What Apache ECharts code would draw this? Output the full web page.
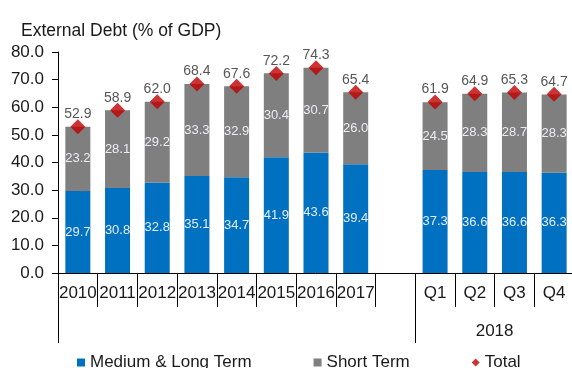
<!DOCTYPE html>
<html>
<head>
<meta charset="utf-8">
<title>External Debt (% of GDP)</title>
<script src="https://cdn.jsdelivr.net/npm/echarts@6/dist/echarts.min.js"></script>
<style>
  html, body { margin: 0; padding: 0; background: #ffffff; }
  #chart { width: 572px; height: 368px; }
</style>
</head>
<body>
<div id="chart"></div>
<script>
// Periods: yearly values, an empty spacer slot, then 2018 quarters
const categories = ['2010', '2011', '2012', '2013', '2014', '2015', '2016', '2017', '', 'Q1', 'Q2', 'Q3', 'Q4'];
const mediumLongTerm = [29.7, 30.8, 32.8, 35.1, 34.7, 41.9, 43.6, 39.4, null, 37.3, 36.6, 36.6, 36.3];
const shortTerm = [23.2, 28.1, 29.2, 33.3, 32.9, 30.4, 30.7, 26.0, null, 24.5, 28.3, 28.7, 28.3];
const total = [52.9, 58.9, 62.0, 68.4, 67.6, 72.2, 74.3, 65.4, null, 61.9, 64.9, 65.3, 64.7];
const yTicks = [0, 10, 20, 30, 40, 50, 60, 70, 80];
const groupLabel = '2018';
const groupStart = 9; // first quarter slot

const FONT = 'Liberation Sans, Arial, sans-serif';
const BLUE = '#0070c0';
const GREY = '#7f7f7f';
const RED = '#c00000';

const chart = echarts.init(document.getElementById('chart'), null, { renderer: 'canvas' });

chart.setOption({
  animation: false,
  backgroundColor: '#ffffff',
  textStyle: { fontFamily: FONT },
  title: {
    text: 'External Debt (% of GDP)',
    left: 16,
    top: 17,
    textStyle: { fontFamily: FONT, fontSize: 17.5, fontWeight: 'normal', color: '#1a1a1a' }
  },
  legend: {
    left: 72,
    top: 349,
    itemGap: 62,
    itemWidth: 8,
    itemHeight: 8,
    textStyle: { fontFamily: FONT, fontSize: 17, color: '#1a1a1a' },
    data: [
      { name: 'Medium & Long Term', icon: 'rect' },
      { name: 'Short Term', icon: 'rect' },
      { name: 'Total', icon: 'diamond' }
    ]
  },
  grid: {
    left: 58,
    right: -2,
    top: 52,
    bottom: 95,
    containLabel: false,
    outerBoundsMode: 'none'
  },
  xAxis: [
    {
      type: 'category',
      data: categories,
      position: 'bottom',
      axisLine: { show: true, lineStyle: { color: '#000000', width: 1 } },
      axisTick: { show: true, interval: 0, length: 34, lineStyle: { color: '#000000', width: 1 } },
      axisLabel: { interval: 0, margin: 12, fontSize: 17, color: '#1a1a1a', fontFamily: FONT },
      splitLine: { show: false }
    },
    {
      // Group level: long separators and the year under the quarters
      type: 'value',
      min: 0,
      max: categories.length,
      position: 'bottom',
      axisLine: { show: false },
      axisTick: {
        show: true,
        customValues: [0, groupStart],
        length: 70,
        lineStyle: { color: '#000000', width: 1 }
      },
      axisLabel: {
        customValues: [(groupStart + categories.length) / 2],
        formatter: () => groupLabel,
        margin: 50,
        fontSize: 17,
        color: '#1a1a1a',
        fontFamily: FONT
      },
      splitLine: { show: false }
    }
  ],
  yAxis: {
    type: 'value',
    min: yTicks[0],
    max: yTicks[yTicks.length - 1],
    interval: yTicks[1] - yTicks[0],
    axisLine: { show: true, lineStyle: { color: '#000000', width: 1 } },
    axisTick: { show: true, length: 6, lineStyle: { color: '#000000' } },
    axisLabel: {
      margin: 14,
      fontSize: 17,
      color: '#1a1a1a',
      fontFamily: FONT,
      formatter: v => v.toFixed(1)
    },
    splitLine: { show: false }
  },
  series: [
    {
      name: 'Medium & Long Term',
      type: 'bar',
      stack: 'debt',
      barWidth: 25,
      data: mediumLongTerm,
      itemStyle: { color: BLUE },
      label: {
        show: true,
        position: 'inside',
        fontSize: 13,
        color: '#e4ecf7',
        fontFamily: FONT,
        formatter: p => p.value.toFixed(1)
      }
    },
    {
      name: 'Short Term',
      type: 'bar',
      stack: 'debt',
      barWidth: 25,
      data: shortTerm,
      itemStyle: { color: GREY },
      label: {
        show: true,
        position: 'inside',
        fontSize: 13,
        color: '#ececf2',
        fontFamily: FONT,
        formatter: p => p.value.toFixed(1)
      }
    },
    {
      name: 'Total',
      type: 'scatter',
      symbol: 'diamond',
      symbolSize: 15,
      data: total,
      itemStyle: { color: RED },
      z: 5,
      label: {
        show: true,
        position: 'top',
        distance: -2,
        fontSize: 14,
        color: '#2b2b2b',
        fontFamily: FONT,
        formatter: p => p.value.toFixed(1)
      }
    }
  ]
});
</script>
</body>
</html>
